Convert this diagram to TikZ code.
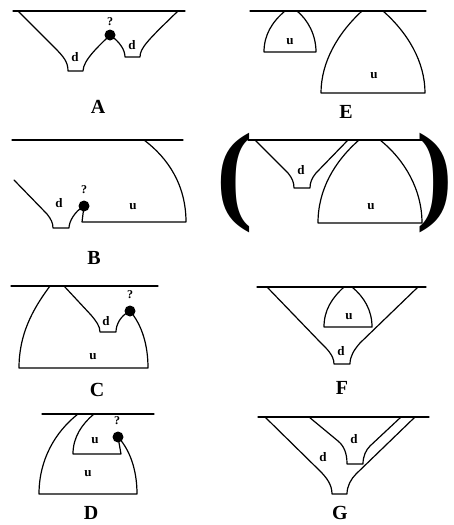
\documentclass[tikz,border=0pt]{standalone}
\usepackage{fontspec}
\setmainfont{Liberation Serif}
\usepackage{tikz}

\begin{document}
\begin{tikzpicture}[x=1pt, y=-1pt,
    wall/.style={line width=1.2pt, line join=round, line cap=round},
    lbl/.style={font=\bfseries\fontsize{13}{13}\selectfont, inner sep=0pt},
    qmark/.style={font=\bfseries\fontsize{12}{12}\selectfont, inner sep=0pt},
    caselbl/.style={font=\bfseries\fontsize{20}{20}\selectfont, inner sep=0pt},
    bigparen/.style={font=\bfseries\fontsize{110}{110}\selectfont, inner sep=0pt},
    ball/.style={circle, fill=black, inner sep=0pt, minimum size=11pt}]
    \useasboundingbox (0,0) rectangle (454,525);

    % A
    \draw[wall] (13,11) -- (185,11);
    \node[ball] (dotA) at (110,35) {};
    \draw[wall] (18,11) -- (54,47) .. controls (64,57) and (68,62) .. (68,71) -- (83,71)
        .. controls (83,60) and (100,45) .. (dotA.center)
        .. controls (120,42) and (125,50) .. (125,57) -- (140,57)
        .. controls (140,48) and (148,40) .. (178,11);
    \node[qmark] (qA) at (110,22) {?};
    \node[lbl] (dA1) at (75,57) {d};
    \node[lbl] (dA2) at (132,45) {d};
    \node[caselbl] (labA) at (98,107) {A};

    % E
    \draw[wall] (250,11) -- (426,11);
    \draw[wall] (285,11) .. controls (272,22) and (264,35) .. (264,52) -- (316,52)
        .. controls (316,35) and (308,20) .. (297,11);
    \draw[wall] (362,11) .. controls (338,33) and (321,62) .. (321,93) -- (425,93)
        .. controls (425,62) and (408,33) .. (383,11);
    \node[lbl] (uE1) at (290,42) {u};
    \node[lbl] (uE2) at (374,76) {u};
    \node[caselbl] (labE) at (346,112) {E};

    % B
    \draw[wall] (12,140) -- (183,140);
    \node[ball] (dotB) at (84,206) {};
    \draw[wall] (144,140) .. controls (168,158) and (186,185) .. (186,222) -- (82,222) -- (dotB.center);
    \draw[wall] (14,180) -- (47,214) .. controls (51,219) and (53,223) .. (53,228) -- (69,228)
        .. controls (69,222) and (74,212) .. (dotB.center);
    \node[qmark] (qB) at (84,190) {?};
    \node[lbl] (dB) at (59,203) {d};
    \node[lbl] (uB) at (133,207) {u};
    \node[caselbl] (labB) at (94,258) {B};

    % (d u)
    \draw[wall] (248,140) -- (423,140);
    \draw[wall] (255,140) -- (288,173) .. controls (292,178) and (294,182) .. (294,188) -- (310,188)
        .. controls (310,182) and (312,178) .. (316,173) -- (348,140);
    \draw[wall] (359,140) .. controls (334,162) and (318,190) .. (318,223) -- (422,223)
        .. controls (422,190) and (405,160) .. (380,140);
    \node[lbl] (dP) at (301,170) {d};
    \node[lbl] (uP) at (371,207) {u};
    \node[bigparen] (lparen) at (235,183) {(};
    \node[bigparen] (rparen) at (435,183) {)};

    % C
    \draw[wall] (11,286) -- (158,286);
    \node[ball] (dotC) at (130,311) {};
    \draw[wall] (50,286) .. controls (32,310) and (19,335) .. (19,368) -- (148,368)
        .. controls (148,345) and (142,325) .. (dotC.center);
    \draw[wall] (64,286) -- (91,315) .. controls (96,321) and (100,326) .. (100,332) -- (116,332)
        .. controls (116,325) and (120,316) .. (dotC.center);
    \node[qmark] (qC) at (130,295) {?};
    \node[lbl] (dC) at (106,321) {d};
    \node[lbl] (uC) at (93,357) {u};
    \node[caselbl] (labC) at (97,390) {C};

    % F
    \draw[wall] (257,287) -- (426,287);
    \draw[wall] (267,287) -- (320,342) .. controls (326,348) and (334,355) .. (334,364) -- (350,364)
        .. controls (350,356) and (354,350) .. (360,343) -- (418,287);
    \draw[wall] (344,287) .. controls (332,298) and (324,310) .. (324,327) -- (372,327)
        .. controls (372,310) and (364,297) .. (352,287);
    \node[lbl] (dF) at (341,351) {d};
    \node[lbl] (uF) at (349,317) {u};
    \node[caselbl] (labF) at (342,388) {F};

    % D
    \draw[wall] (42,414) -- (154,414);
    \node[ball] (dotD) at (118,437) {};
    \draw[wall] (78,414) .. controls (55,432) and (39,460) .. (39,494) -- (137,494)
        .. controls (137,470) and (130,450) .. (dotD.center);
    \draw[wall] (94,414) .. controls (82,424) and (73,437) .. (73,454) -- (121,454) -- (dotD.center);
    \node[qmark] (qD) at (117,421) {?};
    \node[lbl] (uD1) at (95,441) {u};
    \node[lbl] (uD2) at (88,474) {u};
    \node[caselbl] (labD) at (91,513) {D};

    % G
    \draw[wall] (258,417) -- (429,417);
    \draw[wall] (265,417) -- (320,471) .. controls (327,478) and (332,485) .. (332,494) -- (347,494)
        .. controls (347,486) and (351,479) .. (356,474) -- (415,417);
    \draw[wall] (309,417) -- (338,441) .. controls (344,446) and (347,453) .. (347,464) -- (363,464)
        .. controls (363,456) and (366,450) .. (370,446) -- (401,417);
    \node[lbl] (dG1) at (354,439) {d};
    \node[lbl] (dG2) at (323,457) {d};
    \node[caselbl] (labG) at (340,513) {G};
\end{tikzpicture}
\end{document}
